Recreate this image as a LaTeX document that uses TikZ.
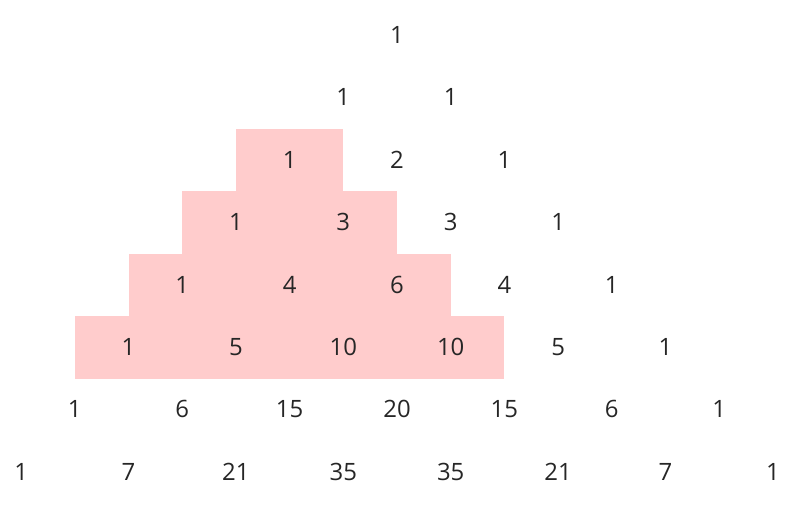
\documentclass[tikz,border=0pt]{standalone}
\usepackage{fontspec}
\setmainfont{Open Sans}
\definecolor{cellPink}{HTML}{FFCCCC}
\newcommand{\colStep}{1.3425}
\newcommand{\rowStep}{1.56}
\newcommand{\midX}{9.925}
\newcommand{\topY}{-0.875}
\newcommand{\halfRow}{0.775}

\begin{document}
\begin{tikzpicture}[entry/.style={inner sep=0pt, font=\fontsize{17}{20}\selectfont, text=black!85}]
\useasboundingbox (0,0) rectangle (20,-12.7);
% shaded cells, rows 2 to 5
\foreach \n in {2,...,5}{
  \fill[cellPink] ({\midX-(\n+1)*\colStep}, {\topY-\n*\rowStep+\halfRow})
     rectangle ({\midX+(\n-3)*\colStep}, {\topY-\n*\rowStep-\halfRow-0.02});
}
% the triangle
\foreach \vals [count=\n from 0] in {{1},{1,1},{1,2,1},{1,3,3,1},{1,4,6,4,1},
    {1,5,10,10,5,1},{1,6,15,20,15,6,1},{1,7,21,35,35,21,7,1}}{
  \foreach \v [count=\k from 0] in \vals {
    \node[entry] (r\n-\k) at ({\midX+(2*\k-\n)*\colStep},{\topY-\n*\rowStep}) {\v};
  }
}
\end{tikzpicture}
\end{document}
